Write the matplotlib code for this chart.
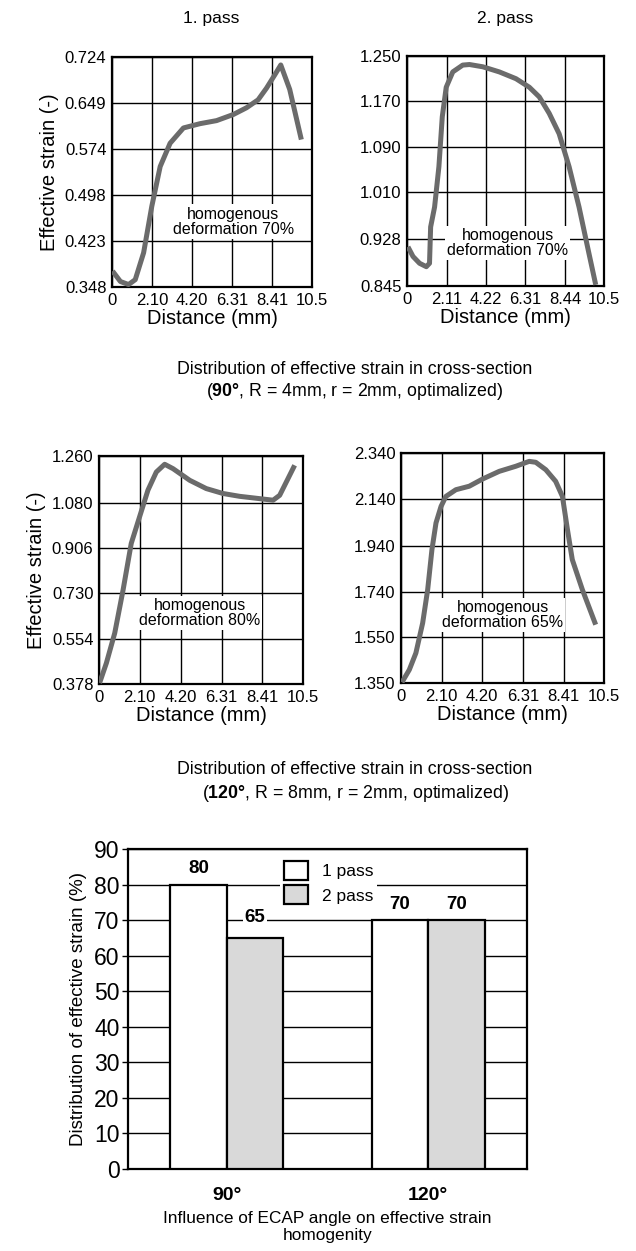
import matplotlib
matplotlib.use("Agg")
import matplotlib.pyplot as plt
import numpy as np

plt.rcParams["font.family"] = ["Liberation Sans", "DejaVu Sans"]
plt.rcParams["mathtext.fontset"] = "custom"
plt.rcParams["mathtext.rm"] = "Liberation Sans"
plt.rcParams["mathtext.bf"] = "Liberation Sans:bold"

W, H = 636, 1251
LINE_COLOR = "#6b6b6b"

# ---- strain profiles ----
p1_x = [0.03, 0.44, 0.87, 1.22, 1.66, 2.09, 2.53, 3.05, 3.75, 4.62, 5.49, 6.37, 7.06, 7.67, 8.11, 8.55, 8.86, 9.33, 9.94]
p1_y = [0.374, 0.357, 0.352, 0.360, 0.404, 0.480, 0.545, 0.583, 0.608, 0.615, 0.620, 0.630, 0.641, 0.654, 0.673, 0.695, 0.711, 0.671, 0.589]
p1_xt = [0, 2.10, 4.20, 6.31, 8.41, 10.5]
p1_xl = ["0", "2.10", "4.20", "6.31", "8.41", "10.5"]
p1_yt = [0.348, 0.423, 0.498, 0.574, 0.649, 0.724]

p2_x = [0.05, 0.32, 0.67, 1.03, 1.20, 1.26, 1.47, 1.70, 1.88, 2.09, 2.44, 2.97, 3.33, 4.04, 4.92, 5.81, 6.52, 7.05, 7.58, 8.11, 8.64, 9.17, 9.70, 10.06]
p2_y = [0.914, 0.897, 0.885, 0.879, 0.885, 0.949, 0.984, 1.055, 1.143, 1.195, 1.222, 1.234, 1.235, 1.231, 1.222, 1.210, 1.195, 1.178, 1.149, 1.113, 1.055, 0.984, 0.902, 0.847]
p2_xt = [0, 2.11, 4.22, 6.31, 8.44, 10.5]
p2_xl = ["0", "2.11", "4.22", "6.31", "8.44", "10.5"]
p2_yt = [0.845, 0.928, 1.010, 1.090, 1.170, 1.250]

p3_x = [0.03, 0.38, 0.81, 1.24, 1.66, 2.09, 2.52, 2.95, 3.38, 3.81, 4.67, 5.52, 6.38, 7.24, 8.27, 8.96, 9.30, 10.07]
p3_y = [0.382, 0.459, 0.575, 0.742, 0.922, 1.025, 1.128, 1.198, 1.228, 1.211, 1.166, 1.134, 1.115, 1.104, 1.095, 1.089, 1.108, 1.224]
p3_xt = [0, 2.10, 4.20, 6.31, 8.41, 10.5]
p3_xl = ["0", "2.10", "4.20", "6.31", "8.41", "10.5"]
p3_yt = [0.378, 0.554, 0.730, 0.906, 1.080, 1.260]

p4_x = [0.05, 0.43, 0.77, 1.12, 1.38, 1.60, 1.81, 2.07, 2.32, 2.84, 3.53, 4.22, 5.08, 5.94, 6.63, 6.97, 7.49, 8.00, 8.35, 8.61, 8.86, 9.38, 10.07]
p4_y = [1.353, 1.407, 1.479, 1.608, 1.752, 1.924, 2.039, 2.110, 2.153, 2.182, 2.197, 2.228, 2.261, 2.283, 2.304, 2.300, 2.268, 2.218, 2.153, 2.010, 1.881, 1.752, 1.601]
p4_xt = [0, 2.10, 4.20, 6.31, 8.41, 10.5]
p4_xl = ["0", "2.10", "4.20", "6.31", "8.41", "10.5"]
p4_yt = [1.350, 1.550, 1.740, 1.940, 2.140, 2.340]

# ---- homogeneity bar chart ----
angles = ["90°", "120°"]
pass1 = [80, 70]
pass2 = [65, 70]


def px_axes(fig, left, top, right, bottom):
    return fig.add_axes([left / W, 1 - bottom / H, (right - left) / W, (bottom - top) / H])


def strain_panel(ax, x, y, xt, xl, yt, note, note_xy, ylabel=True):
    ax.plot(x, y, color=LINE_COLOR, lw=3.6, solid_capstyle="butt", zorder=4)
    ax.set_xlim(0, 10.5)
    ax.set_ylim(yt[0], yt[-1])
    ax.set_xticks(xt)
    ax.set_xticklabels(xl)
    ax.set_yticks(yt)
    ax.set_yticklabels([f"{v:.3f}" for v in yt])
    ax.grid(True, color="black", lw=1.0)
    ax.tick_params(length=0, labelsize=12, pad=4)
    for s in ax.spines.values():
        s.set_linewidth(1.6)
    ax.set_xlabel("Distance (mm)", fontsize=14.5, labelpad=1)
    if ylabel:
        ax.set_ylabel("Effective strain (-)", fontsize=14.5, labelpad=4)
    ax.text(note_xy[0], note_xy[1], note, ha="center", va="center", fontsize=11.5,
            linespacing=1.0, zorder=3,
            bbox=dict(facecolor="white", edgecolor="none", pad=1.5))


fig = plt.figure(figsize=(W / 100, H / 100), dpi=100)

ax1 = px_axes(fig, 112, 57, 312, 287)
strain_panel(ax1, p1_x, p1_y, p1_xt, p1_xl, p1_yt, "homogenous\ndeformation 70%", (6.37, 0.455))
ax2 = px_axes(fig, 407, 56, 604, 286)
strain_panel(ax2, p2_x, p2_y, p2_xt, p2_xl, p2_yt, "homogenous\ndeformation 70%", (5.37, 0.920), ylabel=False)
ax3 = px_axes(fig, 99, 456, 303, 684)
strain_panel(ax3, p3_x, p3_y, p3_xt, p3_xl, p3_yt, "homogenous\ndeformation 80%", (5.18, 0.652))
ax4 = px_axes(fig, 401, 453, 604, 683)
strain_panel(ax4, p4_x, p4_y, p4_xt, p4_xl, p4_yt, "homogenous\ndeformation 65%", (5.25, 1.644), ylabel=False)

fig.text(211 / W, 1 - 18 / H, "1. pass", ha="center", va="center", fontsize=12.5)
fig.text(505 / W, 1 - 18 / H, "2. pass", ha="center", va="center", fontsize=12.5)

fig.text(355 / W, 1 - 370 / H, "Distribution of effective strain in cross-section",
         ha="center", va="center", fontsize=12.8)
fig.text(355 / W, 1 - 392 / H, r"($\mathbf{90°}$, R = 4mm, r = 2mm, optimalized)",
         ha="center", va="center", fontsize=12.8)
fig.text(355 / W, 1 - 770 / H, "Distribution of effective strain in cross-section",
         ha="center", va="center", fontsize=12.8)
fig.text(355 / W, 1 - 793 / H, r"($\mathbf{120°}$, R = 8mm, r = 2mm, optimalized)",
         ha="center", va="center", fontsize=12.8)

# bar chart
axb = px_axes(fig, 128, 849, 527, 1169)
xpos = np.arange(len(angles))
bw = 0.28
b1 = axb.bar(xpos - bw / 2, pass1, bw, color="white", edgecolor="black", lw=1.6, label="1 pass", zorder=3)
b2 = axb.bar(xpos + bw / 2, pass2, bw, color="#d9d9d9", edgecolor="black", lw=1.6, label="2 pass", zorder=3)
axb.set_xlim(-0.49, 1.49)
axb.set_ylim(0, 90)
axb.set_yticks(np.arange(0, 91, 10))
axb.set_xticks(xpos)
axb.set_xticklabels(angles, fontweight="bold", fontsize=14)
axb.tick_params(axis="x", length=0, pad=13)
axb.tick_params(axis="y", length=4, width=1.0, labelsize=16.5, pad=2)
axb.yaxis.grid(True, color="black", lw=1.0, zorder=0)
axb.set_axisbelow(True)
for s in axb.spines.values():
    s.set_linewidth(1.6)
axb.set_ylabel("Distribution of effective strain (%)", fontsize=13.5, labelpad=5)
axb.set_xlabel("Influence of ECAP angle on effective strain\nhomogenity", fontsize=12.4, labelpad=5)

for bars, vals in ((b1, pass1), (b2, pass2)):
    for bar, v in zip(bars, vals):
        off = 4.5 if v != 65 else 5.6
        axb.text(bar.get_x() + bar.get_width() / 2, v + off, f"{v}", ha="center", va="center",
                 fontsize=13.5, fontweight="bold", zorder=5,
                 bbox=dict(facecolor="white", edgecolor="none", pad=1.5))

leg = axb.legend(loc="upper left", bbox_to_anchor=(0.36, 1.0), frameon=True, fancybox=False,
                 edgecolor="none", facecolor="white", framealpha=1.0, fontsize=12.5,
                 handlelength=1.4, handleheight=1.3, borderpad=0.2, labelspacing=0.3,
                 handletextpad=0.8)

fig.savefig("out.png", dpi=100)
